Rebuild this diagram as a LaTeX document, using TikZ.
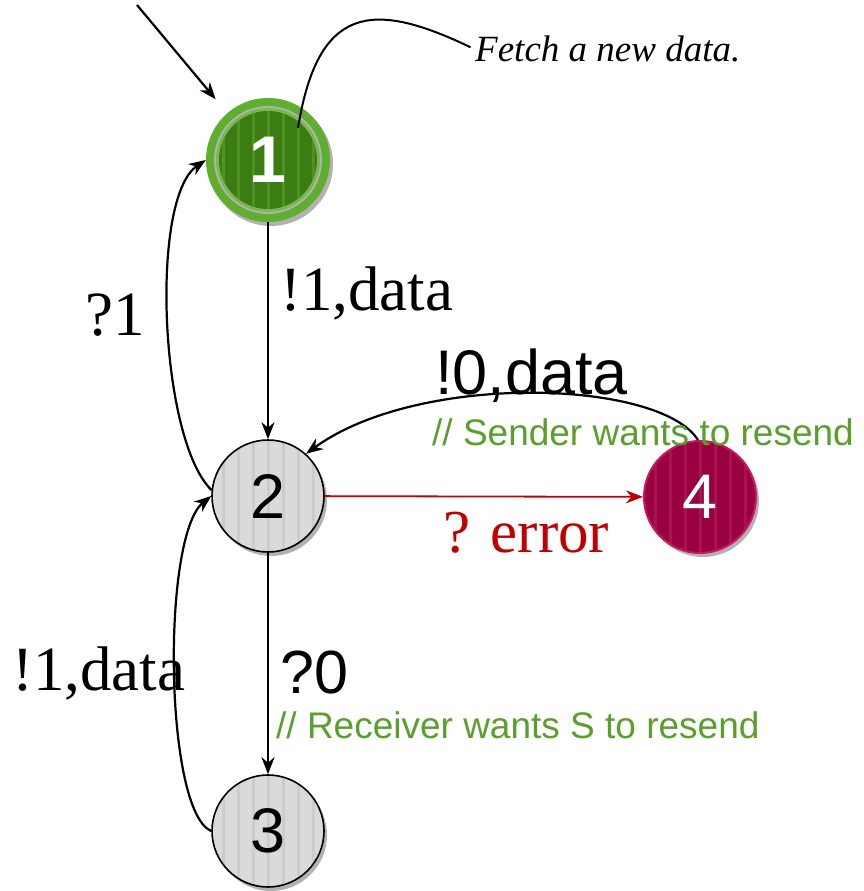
\documentclass[tikz,border=0pt]{standalone}
\usepackage{fontspec}
\setmainfont{Liberation Serif}
\setsansfont{Liberation Sans}
\usetikzlibrary{arrows.meta,shadows,topaths}
\definecolor{gcomment}{HTML}{5A9E2C}
\definecolor{gouter}{HTML}{5FAE2E}
\definecolor{ginner}{HTML}{3B7D12}
\definecolor{gstripe}{HTML}{4E9226}
\definecolor{errred}{HTML}{C00000}
\definecolor{wine}{HTML}{98003F}
\definecolor{wineedge}{HTML}{CC1663}
\definecolor{winestripe}{HTML}{A8124F}
\definecolor{greyfill}{HTML}{DADADA}
\definecolor{greystripe}{HTML}{CCCCCC}
\newcommand\bigsize{\fontsize{63}{70}\selectfont}
\newcommand\midsize{\fontsize{61}{68}\selectfont}
\newcommand\notesize{\fontsize{37}{42}\selectfont}
\tikzset{
  stateshadow/.style={drop shadow={shadow xshift=3pt,shadow yshift=-4pt,opacity=0.3,fill=black}},
  state/.style={circle,inner sep=0pt,minimum size=112pt,stateshadow,
    font=\sffamily\bigsize},
  stripes/.style={path picture={
      \foreach \dx in {-75,-60,...,75}
        \fill[#1] (path picture bounding box.center) ++(\dx-1.5,-80) rectangle ++(3,160);}},
  greystate/.style={state,fill=greyfill,draw=black,line width=1.6pt,stripes=greystripe},
  winestate/.style={state,fill=wine,draw=wineedge,line width=2pt,text=white,stripes=winestripe},
  startstate/.style={circle,inner sep=0pt,minimum size=124pt,fill=gouter,stateshadow,
    text=white,font=\sffamily\bfseries\fontsize{66}{70}\selectfont,
    path picture={
      \fill[gray!60] (path picture bounding box.center) circle[radius=54pt];
      \fill[gouter!85!white] (path picture bounding box.center) circle[radius=52pt];
      \fill[ginner] (path picture bounding box.center) circle[radius=49pt];
      \begin{scope}
        \clip (path picture bounding box.center) circle[radius=49pt];
        \foreach \dx in {-60,-45,...,60}
          \fill[gstripe] (path picture bounding box.center) ++(\dx-1.5,-60) rectangle ++(3,120);
      \end{scope}}},
  edge/.style={line width=2.2pt,-{Stealth[length=17pt,width=13pt]}},
  serifbig/.style={font=\rmfamily\bigsize,inner sep=0pt},
  sansbig/.style={font=\sffamily\bigsize,inner sep=0pt},
  note/.style={font=\sffamily\notesize,text=gcomment,inner sep=0pt},
}
\begin{document}
\begin{tikzpicture}[x=1pt,y=1pt]
\useasboundingbox (0,0) rectangle (863,-891);

% states
\node[startstate] (n1) at (268,-160) {1};
\node[greystate] (n2) at (268,-496) {2};
\node[greystate] (n3) at (268,-831) {3};
\node[winestate] (n4) at (700,-497) {4};

% initial arrow
\coordinate (init) at (137,-5);
\draw[edge,shorten >=18pt] (init) -- (n1.131);

% annotation of the start state
\coordinate (noteroot) at (298,-128);
\node[font=\rmfamily\itshape\notesize,inner sep=0pt,anchor=base west] (fetch) at (475,-62) {Fetch a new data.};
\draw[line width=2pt,shorten >=5pt] (noteroot) .. controls (318,-5) and (372,0) .. (fetch.west);

% transitions
\draw[edge] (n1) -- (n2);
\draw[edge] (n2.174) to[out=136,in=-146,out distance=72pt,in distance=68pt] (n1.west);
\draw[edge] (n2) -- (n3);
\draw[edge] (n3.west) to[out=157,in=-141,out distance=51pt,in distance=64pt] (n2.west);
\draw[edge,draw=errred,line width=1.8pt,color=errred] (n2) -- (n4);
\draw[edge] (n4.92) to[out=122,in=36,out distance=71pt,in distance=140pt] (n2.48);

% labels
\node[serifbig,anchor=base west] (l12) at (280,-310) {!1,data};
\node[serifbig,anchor=base west] (l21) at (85,-335) {?1};
\node[sansbig,anchor=base west] (l42) at (435,-394) {!0,data};
\node[note,anchor=base west] (c42) at (432,-445) {// Sender wants to resend};
\node[serifbig,anchor=base west,text=errred,font=\rmfamily\midsize] (l24) at (443,-552) {? error};
\node[sansbig,anchor=base west,font=\sffamily\midsize] (l23) at (280,-693) {?0};
\node[note,anchor=base west] (c23) at (276,-738) {// Receiver wants S to resend};
\node[serifbig,anchor=base west] (l32) at (12,-690) {!1,data};
\end{tikzpicture}
\end{document}
